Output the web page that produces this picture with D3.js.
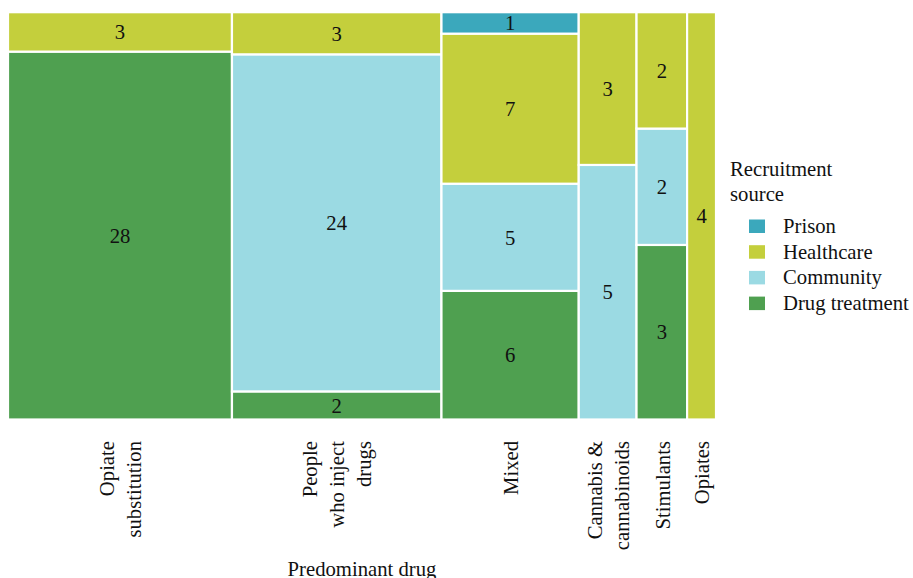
<!DOCTYPE html>
<html>
<head>
<meta charset="utf-8">
<script src="https://cdn.jsdelivr.net/npm/d3@7"></script>
<style>
  html, body { margin: 0; padding: 0; background: #fff; }
  svg { display: block; font-family: "Liberation Serif", "Times New Roman", serif; }
</style>
</head>
<body>
<svg id="chart" width="913" height="578"></svg>
<script>
// ---- data ----
const categories = ["Opiate substitution", "People who inject drugs", "Mixed", "Cannabis & cannabinoids", "Stimulants", "Opiates"];
const categoryLabels = [["Opiate", "substitution"], ["People", "who inject", "drugs"], ["Mixed"], ["Cannabis &", "cannabinoids"], ["Stimulants"], ["Opiates"]];
const sources = ["Prison", "Healthcare", "Community", "Drug treatment"];
const prison        = [0, 0, 1, 0, 0, 0];
const healthcare    = [3, 3, 7, 3, 2, 4];
const community     = [0, 24, 5, 5, 2, 0];
const drugTreatment = [28, 2, 6, 0, 3, 0];
const colors = ["#3ba8bc", "#c4cf3c", "#9bdae3", "#4fa050"];
const xTitle = "Predominant drug";
const legendTitle = ["Recruitment", "source"];

// ---- layout ----
const svg = d3.select("#chart");
const plot = { left: 8, right: 716, top: 12.2, bottom: 419.5 };
const fs = 20.7;
const serif = '"Liberation Serif", "Times New Roman", serif';

const seriesValues = { "Prison": prison, "Healthcare": healthcare, "Community": community, "Drug treatment": drugTreatment };
const stackOrder = ["Drug treatment", "Community", "Healthcare", "Prison"]; // bottom -> top

const totals = categories.map((c, i) => sources.reduce((s, k) => s + seriesValues[k][i], 0));
const grand = d3.sum(totals);

const x = d3.scaleLinear().domain([0, grand]).range([plot.left, plot.right]);
const y = d3.scaleLinear().domain([0, 1]).range([plot.bottom, plot.top]);
const color = d3.scaleOrdinal().domain(sources).range(colors);

const cells = [];
let cum = 0;
categories.forEach((c, i) => {
  const x0 = cum, x1 = cum + totals[i];
  let ycum = 0;
  stackOrder.forEach(k => {
    const v = seriesValues[k][i];
    if (v > 0) {
      cells.push({ cat: c, src: k, v, x0, x1, y0: ycum / totals[i], y1: (ycum + v) / totals[i] });
    }
    ycum += v;
  });
  cum = x1;
});

const g = svg.append("g");
g.selectAll("rect.cell").data(cells).join("rect")
  .attr("class", "cell")
  .attr("x", d => x(d.x0))
  .attr("y", d => y(d.y1))
  .attr("width", d => x(d.x1) - x(d.x0))
  .attr("height", d => y(d.y0) - y(d.y1))
  .attr("fill", d => color(d.src))
  .attr("stroke", "#fff")
  .attr("stroke-width", 2.2);

g.selectAll("text.val").data(cells).join("text")
  .attr("class", "val")
  .attr("x", d => (x(d.x0) + x(d.x1)) / 2)
  .attr("y", d => (y(d.y0) + y(d.y1)) / 2)
  .attr("dy", "0.35em")
  .attr("text-anchor", "middle")
  .attr("font-size", fs)
  .attr("fill", "#111")
  .text(d => d.v);

// ---- x axis labels ----
const mids = [];
cum = 0;
totals.forEach(t => { mids.push(cum + t / 2); cum += t; });

const axis = d3.axisBottom(x).tickValues(mids).tickSize(0).tickFormat("");
const axG = svg.append("g").attr("transform", `translate(0,${plot.bottom})`).call(axis)
  .attr("font-family", serif).attr("font-size", fs);
axG.select(".domain").remove();
const lh = 27;
axG.selectAll(".tick").each(function (d, i) {
  const lines = categoryLabels[i];
  const t = d3.select(this).append("text")
    .attr("transform", "translate(0,21.5) rotate(-90)")
    .attr("text-anchor", "end")
    .attr("font-family", serif)
    .attr("font-size", fs)
    .attr("fill", "#111");
  lines.forEach((ln, j) => {
    t.append("tspan")
      .attr("x", 0)
      .attr("y", (j - (lines.length - 1) / 2) * lh + 0.35 * fs)
      .text(ln);
  });
});

svg.append("text")
  .attr("x", (plot.left + plot.right) / 2)
  .attr("y", 576)
  .attr("text-anchor", "middle")
  .attr("font-size", fs)
  .attr("fill", "#111")
  .text(xTitle);

// ---- legend ----
const lg = svg.append("g");
legendTitle.forEach((t, i) => {
  lg.append("text").attr("x", 730).attr("y", 176 + i * 25)
    .attr("font-size", fs).attr("fill", "#111").text(t);
});
const items = lg.selectAll("g.item").data(sources).join("g")
  .attr("class", "item")
  .attr("transform", (d, i) => `translate(0,${233 + i * 25.7})`);
items.append("rect").attr("x", 749).attr("y", -13.5).attr("width", 16).attr("height", 13.5)
  .attr("fill", d => color(d));
items.append("text").attr("x", 783).attr("y", 0)
  .attr("font-size", fs).attr("fill", "#111").text(d => d);
</script>
</body>
</html>
